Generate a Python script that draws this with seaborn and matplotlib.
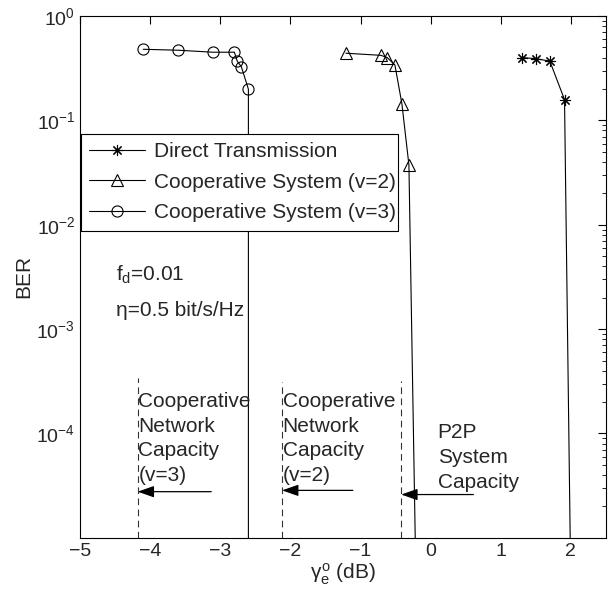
import pandas as pd
import matplotlib
matplotlib.use("Agg")
import matplotlib.pyplot as plt
import seaborn as sns

# BER curves (last point sits below the axis, line just runs off)
direct_x = [1.30, 1.50, 1.70, 1.91, 2.01]
direct_ber = [0.40, 0.39, 0.37, 0.158, 1e-6]

coop2_x = [-1.21, -0.71, -0.62, -0.51, -0.41, -0.31, -0.20]
coop2_ber = [0.44, 0.42, 0.40, 0.34, 0.144, 0.0375, 1.6e-6]

coop3_x = [-4.10, -3.60, -3.11, -2.80, -2.76, -2.70, -2.60, -2.60]
coop3_ber = [0.48, 0.47, 0.45, 0.45, 0.37, 0.326, 0.199, 1e-6]

labels = ["Direct Transmission", "Cooperative System (v=2)", "Cooperative System (v=3)"]

# capacity limits (dashed lines) and their notes
cap_x = [-4.18, -2.12, -0.42]
cap_top = [3.4e-4, 3.1e-4, 3.2e-4]
cap_text = ["Cooperative\nNetwork\nCapacity\n(v=3)", "Cooperative\nNetwork\nCapacity\n(v=2)",
            "P2P\nSystem\nCapacity"]
text_x = [-4.17, -2.11, 0.10]
text_y = [2.5e-4, 2.5e-4, 1.25e-4]
arrow_from = [-3.13, -1.11, 0.61]
arrow_y = [2.77e-5, 2.85e-5, 2.6e-5]

sns.set_style("white")
plt.rcParams['font.family'] = ['Liberation Sans', 'DejaVu Sans']
plt.rcParams['mathtext.fontset'] = 'custom'
plt.rcParams['mathtext.rm'] = 'Liberation Sans'
plt.rcParams['mathtext.it'] = 'Liberation Sans'

fig = plt.figure(figsize=(6.12, 5.93), dpi=100)
ax = fig.add_axes([0.131, 0.093, 0.859, 0.880])

df1 = pd.DataFrame({"x": direct_x, "ber": direct_ber})
df2 = pd.DataFrame({"x": coop2_x, "ber": coop2_ber})
df3 = pd.DataFrame({"x": coop3_x, "ber": coop3_ber})

sns.lineplot(data=df1, x="x", y="ber", ax=ax, color="black", lw=0.8, sort=False, estimator=None,
             marker=(8, 2, 0), markersize=8, markeredgecolor="black", markeredgewidth=0.8,
             label=labels[0])
sns.lineplot(data=df2, x="x", y="ber", ax=ax, color="black", lw=0.8, sort=False, estimator=None,
             marker="^", markersize=9, markerfacecolor="none", markeredgecolor="black",
             markeredgewidth=0.8, label=labels[1])
sns.lineplot(data=df3, x="x", y="ber", ax=ax, color="black", lw=0.8, sort=False, estimator=None,
             marker="o", markersize=8, markerfacecolor="none", markeredgecolor="black",
             markeredgewidth=0.8, label=labels[2])

ax.set_yscale("log")
ax.set_xlim(-5, 2.5)
ax.set_ylim(1e-5, 1)
ax.set_xticks([-5, -4, -3, -2, -1, 0, 1, 2])
ax.set_xticklabels(["\u22125", "\u22124", "\u22123", "\u22122", "\u22121", "0", "1", "2"])
ax.set_yticks([1, 1e-1, 1e-2, 1e-3, 1e-4])
ax.set_yticklabels([r"$10^{0}$", r"$10^{-1}$", r"$10^{-2}$", r"$10^{-3}$", r"$10^{-4}$"])

for i in range(3):
    ax.vlines(cap_x[i], 1e-5, cap_top[i], colors="#333333", linestyles=(0, (6, 4)), lw=0.8)
    ax.text(text_x[i], text_y[i], cap_text[i], fontsize=15, va="top", ha="left", linespacing=1.38)
    ax.annotate("", xy=(cap_x[i], arrow_y[i]), xytext=(arrow_from[i], arrow_y[i]),
                arrowprops=dict(arrowstyle="-|>,head_length=1.0,head_width=0.35",
                                color="black", lw=0.9, shrinkA=0, shrinkB=0))

ax.text(-4.49, 3.3e-3, r"f$_\mathrm{d}$=0.01", fontsize=15, va="center", ha="left")
ax.text(-4.49, 1.5e-3, "\u03b7=0.5 bit/s/Hz", fontsize=15, va="center", ha="left")

ax.set_xlabel(r"$\gamma_\mathrm{e}^\mathrm{o}$ (dB)", fontsize=15, labelpad=1)
ax.set_ylabel("BER", fontsize=15, labelpad=2)

ax.tick_params(which="both", direction="in", top=True, right=True, labelsize=14, color="black")
ax.tick_params(which="major", length=6, width=0.8)
ax.tick_params(which="minor", length=3, width=0.6)
for s in ax.spines.values():
    s.set_color("black")
    s.set_linewidth(0.8)

leg = ax.legend(loc="upper left", bbox_to_anchor=(0.001, 0.58, 0.604, 0.194), mode="expand",
                borderaxespad=0, fontsize=15, fancybox=False, framealpha=1, edgecolor="black",
                handlelength=2.7, handletextpad=0.4, borderpad=0.4, labelspacing=0.55)
leg.get_frame().set_linewidth(0.8)

fig.savefig("out.png", dpi=100)
